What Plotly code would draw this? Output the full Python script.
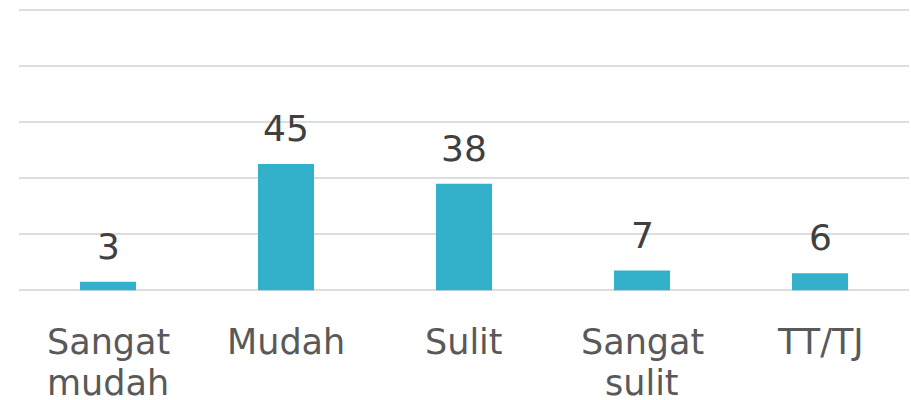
import plotly.graph_objects as go

categories = ["Sangat mudah", "Mudah", "Sulit", "Sangat sulit", "TT/TJ"]
label_line1 = ["Sangat", "Mudah", "Sulit", "Sangat", "TT/TJ"]
label_line2 = ["mudah", "", "", "sulit", ""]
values = [3, 45, 38, 7, 6]
y_ticks = [0, 20, 40, 60, 80, 100]

FONT = "DejaVu Sans"
BAR_COLOR = "#33B0CA"

fig = go.Figure()
fig.add_trace(go.Bar(x=categories, y=values, marker=dict(color=BAR_COLOR, line=dict(width=0)),
                     hoverinfo="skip"))

annotations = []
for c, v in zip(categories, values):
    annotations.append(dict(x=c, y=v, xref="x", yref="y", text=str(v), showarrow=False,
                            yanchor="bottom", yshift=13,
                            font=dict(family=FONT, size=36, color="#404040")))
for c, l1, l2 in zip(categories, label_line1, label_line2):
    annotations.append(dict(x=c, y=0, xref="x", yref="y", text=l1, showarrow=False,
                            yanchor="top", yshift=-30,
                            font=dict(family=FONT, size=35, color="#595959")))
    if l2:
        annotations.append(dict(x=c, y=0, xref="x", yref="y", text=l2, showarrow=False,
                                yanchor="top", yshift=-71,
                                font=dict(family=FONT, size=35, color="#595959")))

fig.update_layout(
    width=911, height=400,
    margin=dict(l=19, r=2, t=7.2, b=107.2, autoexpand=False),
    paper_bgcolor="white", plot_bgcolor="white",
    showlegend=False, bargap=0.685,
    annotations=annotations,
    xaxis=dict(showticklabels=False, showgrid=False, zeroline=False, showline=False,
               ticks=""),
    yaxis=dict(range=[-1, 101], tickvals=y_ticks, showticklabels=False, showgrid=True,
               gridcolor="#DDDDDD", gridwidth=2, zeroline=False, showline=False,
               ticks=""),
)

fig.write_html("out.html", config={"displayModeBar": False, "staticPlot": True})

with open("out.html", "r", encoding="utf-8") as f:
    html = f.read()
html = html.replace("<body>", '<body style="margin:0;padding:0;overflow:hidden">', 1)
with open("out.html", "w", encoding="utf-8") as f:
    f.write(html)
